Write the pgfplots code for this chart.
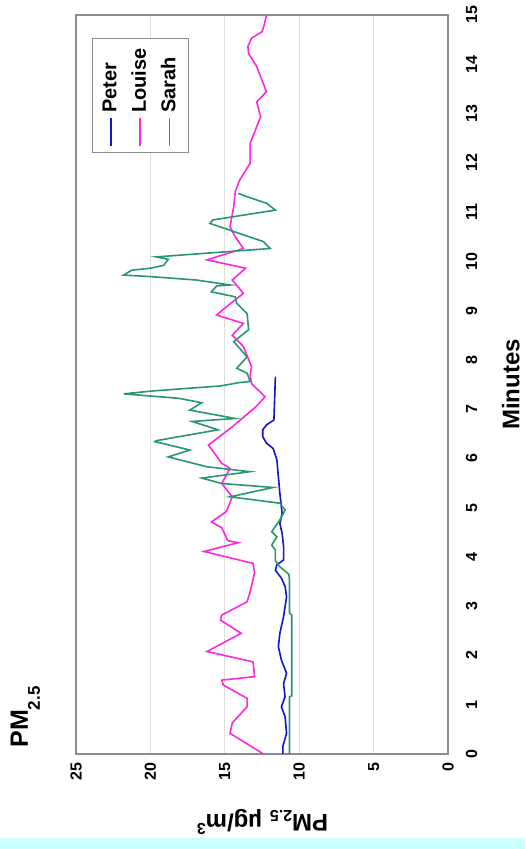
\documentclass[border=0pt]{standalone}
\usepackage{fontspec}
\setmainfont{Liberation Sans}
\usepackage{pgfplots}
\pgfplotsset{compat=1.18}
\definecolor{peter}{RGB}{20,20,200}
\definecolor{louise}{RGB}{255,40,220}
\definecolor{sarah}{RGB}{40,150,110}
\definecolor{band}{RGB}{204,255,255}
\definecolor{framec}{RGB}{140,140,140}
\definecolor{gridc}{RGB}{222,222,222}
\begin{document}
\begin{tikzpicture}[rotate=90,transform shape]
\path[use as bounding box] (0,0) rectangle (424.5pt,262.5pt);
\fill[band] (0,0) rectangle (5.5pt,262.5pt);
\node[anchor=base west,inner sep=0pt,font=\fontsize{12.5}{14}\selectfont\bfseries] at (50.5pt,248.5pt) {PM\raisebox{-6pt}{\fontsize{8.5}{9}\selectfont 2.5}};
\begin{axis}[
 at={(47.5pt,38.5pt)}, anchor=south west, scale only axis,
 width=369.5pt, height=186pt,
 xmin=0, xmax=15, ymin=0, ymax=25,
 xtick={0,1,...,15}, ytick={0,5,...,25},
 axis line style={framec, line width=0.8pt},
 ymajorgrids, grid style={gridc, line width=0.5pt},
 major tick length=0pt,
 /pgf/number format/assume math mode=true,
 ticklabel style={font=\fontsize{8}{9}\selectfont\bfseries},
 xticklabel style={yshift=-5.5pt},
 yticklabel style={xshift=-1pt},
 xlabel={Minutes},
 ylabel={PM\textsubscript{2.5} µg/m\textsuperscript{3}},
 label style={font=\fontsize{12}{14}\selectfont\bfseries},
 xlabel style={at={(axis description cs:0.5,-0.169)}, anchor=center},
 ylabel style={at={(axis description cs:-0.092,0.5)}, anchor=center},
 legend style={at={(axis description cs:0.969,0.957)}, anchor=north east,
   draw=framec, line width=0.6pt, font=\fontsize{10}{12}\selectfont\bfseries,
   row sep=2pt, inner sep=3pt},
 legend cell align=left,
 legend image code/.code={\draw[#1] (0pt,0pt) -- (14pt,0pt);},
 every axis plot/.append style={line width=0.8pt},
]
\addplot[peter] coordinates {
(0,11.1) (0.15,11.1) (0.42,10.85) (0.76,10.95) (0.96,11.2) (1.16,10.95) (1.43,11.05)
(1.64,10.85) (1.91,11.2) (2.18,11.4) (2.45,11.3) (2.79,11.05) (3.19,10.85) (3.40,10.95)
(3.57,11.2) (3.73,11.6) (3.84,11.5) (3.94,11.05) (4.21,11.05) (4.48,11.15) (4.68,11.3)
(4.89,11.15) (5.29,11.3) (5.63,11.4) (5.97,11.5) (6.20,11.75) (6.31,12.2) (6.44,12.45)
(6.58,12.45) (6.68,12.2) (6.78,11.7) (7.66,11.6)
};
\addlegendentry{Peter}
\addplot[louise] coordinates {
(0,12.4) (0.42,14.65) (0.63,14.5) (0.96,13.5) (1.13,13.5) (1.40,15.1) (1.50,15.2)
(1.57,13.0) (1.87,13.1) (2.08,16.2) (2.45,13.9) (2.72,15.3) (2.82,15.2) (3.09,13.5)
(3.29,13.3) (3.67,13.0) (3.87,13.1) (4.11,16.4) (4.29,14.1) (4.33,14.8) (4.59,15.2)
(4.71,15.9) (4.92,14.9) (5.22,14.5) (5.49,15.2) (5.80,14.65) (5.90,15.2) (6.27,16.1)
(6.64,14.5) (7.05,12.9) (7.25,12.3) (7.52,13.2) (7.69,13.3) (7.86,13.2) (8.27,13.75)
(8.50,14.5) (8.74,13.75) (8.91,15.55) (9.05,15.0) (9.35,13.75) (9.62,14.5) (9.86,13.6)
(10.03,16.2) (10.26,13.75) (10.50,14.3) (10.70,14.65) (11.11,14.4) (11.41,14.3)
(11.65,14.0) (11.99,13.3) (12.39,13.3) (12.93,12.6) (13.24,12.85) (13.44,12.2)
(13.95,12.85) (14.22,13.4) (14.36,13.45) (14.53,13.2) (14.66,12.5) (14.80,12.35) (15.0,12.2)
};
\addlegendentry{Louise}
\addplot[sarah] coordinates {
(0,10.65) (1.16,10.65) (1.18,10.5) (2.82,10.5) (2.86,10.65) (3.53,10.65) (3.65,10.7)
(3.80,11.3) (3.92,11.6) (4.14,11.6) (4.24,11.85) (4.41,11.5) (4.51,11.85) (4.75,11.3)
(4.95,10.95) (5.09,11.3) (5.22,14.65) (5.41,11.75) (5.49,15.2) (5.60,16.55) (5.73,13.3)
(5.83,16.2) (6.03,18.8) (6.17,17.35) (6.34,19.7) (6.36,19.6) (6.58,15.45) (6.75,17.2)
(6.81,14.3) (6.98,17.35) (7.13,16.55) (7.22,18.1) (7.31,21.8) (7.37,19.8) (7.47,15.3)
(7.54,14.0) (7.56,13.3) (7.73,13.5) (7.83,14.2) (8.06,13.5) (8.37,14.4) (8.61,13.4)
(8.94,13.5) (9.15,14.2) (9.28,14.3) (9.38,15.9) (9.50,15.55) (9.52,14.65) (9.62,16.9)
(9.69,20.0) (9.72,21.8) (9.82,21.25) (9.86,20.0) (9.92,19.1) (10.04,18.8) (10.09,19.6)
(10.26,11.95) (10.40,12.4) (10.63,14.65) (10.77,16.0) (10.84,15.8) (11.04,11.6)
(11.18,12.2) (11.31,13.5) (11.38,14.1)
};
\addlegendentry{Sarah}
\end{axis}
\end{tikzpicture}
\end{document}
